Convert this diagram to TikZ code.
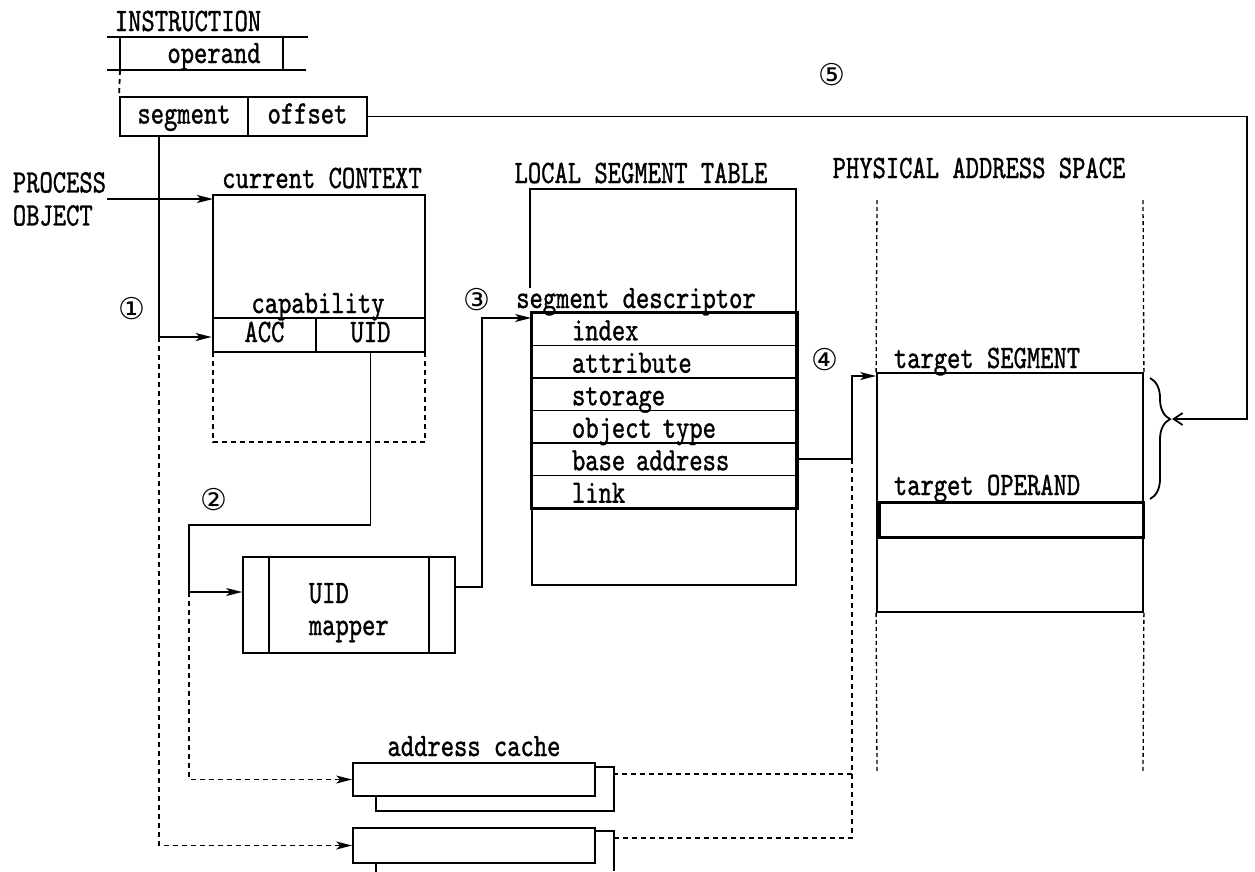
\documentclass[tikz,border=0pt]{standalone}
\usepackage{fontspec}
\newfontfamily\circfont{DejaVu Sans}
\newfontfamily\figfont{lmmono10-regular.otf}[FakeStretch=0.775, FakeBold=1]
\usetikzlibrary{arrows.meta, positioning, decorations.pathreplacing}

\begin{document}
\begin{tikzpicture}[
    x=1pt, y=-1pt,
    >={Stealth[length=16pt, width=8pt, inset=4pt]},
    line width=1.8pt,
    lbl/.style={font=\figfont\fontsize{32.7}{33}\selectfont, inner sep=0pt},
    num/.style={font=\circfont\fontsize{30}{32}\selectfont, inner sep=0pt},
    cellbox/.style={
        draw, rectangle, inner sep=0pt, text height=20pt, text depth=6pt,
        font=\figfont\fontsize{32.7}{33}\selectfont
    },
    boldbox/.style={cellbox, line width=2.8pt},
    slotbox/.style={
        draw, rectangle, inner sep=0pt, minimum width=265pt, minimum height=32.5pt,
        text width=185pt, align=left, text height=22pt, text depth=0pt,
        font=\figfont\fontsize{32.7}{33}\selectfont
    },
    cue/.style={dash pattern=on 5pt off 4pt},
    fine/.style={dash pattern=on 4pt off 3pt, line width=1.3pt},
    barb/.style={-{Straight Barb[length=9pt, width=12pt]}}
]
\useasboundingbox (0,0) rectangle (1255,871);

% instruction
\node[lbl, anchor=base] (instr) at (188,31) {INSTRUCTION};
\draw (107,37) -- (308,37);
\draw (107,70) -- (306,70);
\draw (120,37) -- (120,70);
\draw (283,37) -- (283,70);
\node[lbl, anchor=base] (operand) at (214,63) {operand};
\node[cellbox, minimum width=128pt, minimum height=39pt] (segf) at (184,116.5) {segment};
\node[cellbox, minimum width=119pt, minimum height=39pt] (offf) at (307.5,116.5) {offset};
\draw[cue] (120,70) -- (segf.north west);

% process object and context
\node[lbl, align=left, anchor=west] (proc) at (12,199) {PROCESS\\OBJECT};
\coordinate (ctxnw) at (213,195);
\node[lbl, anchor=base] (ctxlbl) at (322,188) {current CONTEXT};
\draw (213,352) -- (ctxnw) -- (425,195) -- (425,352);
\draw[cue] (213,352) |- (425,442) -- (425,352);
\node[lbl, anchor=base] (caplbl) at (318,313) {capability};
\node[boldbox, minimum width=103pt, minimum height=34pt] (acc) at (264.5,335) {ACC};
\node[boldbox, minimum width=109pt, minimum height=34pt] (uid) at (370.5,335) {UID};

\draw[->] (proc.east) -- (proc.east -| ctxnw);

\coordinate (segtap) at (159,337);
\draw[->] (segtap |- segf.south) -- (segtap) -- (segtap -| acc.west);
\node[num] (n1) at (132,309) {①};

% uid mapper
\node[draw, minimum width=212pt, minimum height=96pt, inner sep=0pt] (mapper) at (349,605) {};
\draw ([xshift=27pt]mapper.north west) -- ([xshift=27pt]mapper.south west);
\draw ([xshift=-27pt]mapper.north east) -- ([xshift=-27pt]mapper.south east);
\node[lbl, anchor=base west] (maptop) at (308,603) {UID};
\node[lbl, anchor=base west] (mapbot) at (308,635) {mapper};

\coordinate (bend2) at (189,525);
\coordinate (tap2) at (189,592);
\draw[->] (uid.south) |- (bend2) -- (tap2) -- (tap2 -| mapper.west);
\node[num] (n2) at (214,500) {②};

% local segment table
\node[lbl, anchor=base] (lstlbl) at (641,183) {LOCAL SEGMENT TABLE};
\draw (530,288) |- (796,189) -- (796,585) -| (532,508);
\node[lbl, anchor=base] (desclbl) at (636,308) {segment descriptor};
\node[slotbox] (d1) at (664.5,329.25) {index};
\node[slotbox] (d2) at (664.5,361.75) {attribute};
\node[slotbox] (d3) at (664.5,394.25) {storage};
\node[slotbox] (d4) at (664.5,426.75) {object type};
\node[slotbox] (d5) at (664.5,459.25) {base address};
\node[slotbox] (d6) at (664.5,491.75) {link};
\draw[line width=3pt] (d1.north west) rectangle (d6.south east);

\coordinate (bend3) at (482,318);
\draw[->] ([yshift=18pt]mapper.east) -| (bend3) -- (bend3 -| d1.west);
\node[num] (n3) at (477,300) {③};

% physical address space
\node[lbl, anchor=base] (paslbl) at (979,178) {PHYSICAL ADDRESS SPACE};
\node[draw, minimum width=266pt, minimum height=239pt, inner sep=0pt] (tseg) at (1010,492.5) {};
\node[lbl, anchor=base west] (tseglbl) at (893,368) {target SEGMENT};
\node[lbl, anchor=base west] (topdlbl) at (893,495) {target OPERAND};
\node[draw, line width=3pt, minimum width=264pt, minimum height=35pt, inner sep=0pt] (topd) at (1011,519.5) {};
\draw[fine] (877,200) -- (tseg.north west);
\draw[fine] (1143,200) -- (tseg.north east);
\draw[fine] (tseg.south west) -- (877,773);
\draw[fine] (tseg.south east) -- (1143,773);

\coordinate (bend4) at (852,376);
\draw[->] (d5.east) -| (bend4) -- (bend4 -| tseg.west);
\node[num] (n4) at (825,360) {④};

\draw[decorate, decoration={brace, amplitude=20pt, aspect=0.34}] (1150,378) -- (1150,499);
\coordinate (tip) at (1172,419);
\coordinate (rim) at (1247,419);
\draw[barb] (offf.east) -| (rim) -- (tip);
\node[num] (n5) at (832,75) {⑤};

% address cache
\node[draw, minimum width=242pt, minimum height=33pt, inner sep=0pt] (cacheA) at (474,779.5) {};
\node[lbl, above=5pt of cacheA] (cachelbl) {address cache};
\draw ([yshift=-5pt]cacheA.north east) -| ([xshift=18pt, yshift=-14pt]cacheA.south east) -| ([xshift=24pt]cacheA.south west);
\node[draw, minimum width=242pt, minimum height=35pt, inner sep=0pt] (cacheB) at (474,845.5) {};
\draw ([yshift=-4pt]cacheB.north east) -- ++(18,0) -- ++(0,40);
\draw ([xshift=24pt]cacheB.south west) -- ++(0,10);

\draw[cue, ->] (segtap) |- (cacheB.west);
\draw[cue, ->] (tap2) |- (cacheA.west);
\coordinate (backA) at (613,774);
\coordinate (backB) at (613,838);
\draw[cue] (bend4 |- d5.east) |- (backB);
\draw[cue] (backA) -- (backA -| bend4);

\end{tikzpicture}
\end{document}
